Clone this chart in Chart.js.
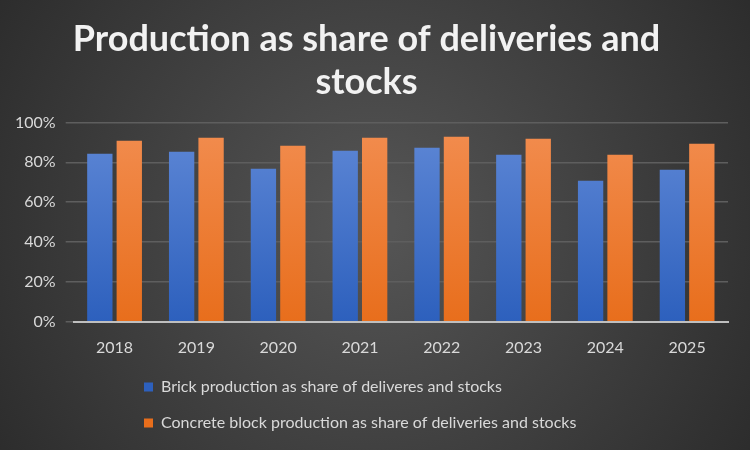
<!DOCTYPE html>
<html>
<head>
<meta charset="utf-8">
<script src="https://cdn.jsdelivr.net/npm/chart.js@4"></script>
<style>
  html, body { margin: 0; padding: 0; background: #3c3c3c; }
  #wrap { width: 750px; height: 450px; }
</style>
</head>
<body>
<div id="wrap"><canvas id="myChart"></canvas></div>
<script>
const years = ['2018', '2019', '2020', '2021', '2022', '2023', '2024', '2025'];
const brickShare = [84.3, 85.3, 76.7, 85.8, 87.3, 83.8, 70.7, 76.2];
const concreteShare = [90.8, 92.3, 88.3, 92.3, 92.8, 91.8, 83.8, 89.3];
const titleLines = ['Production as share of deliveries and', 'stocks'];
const brickLabel = 'Brick production as share of deliveres and stocks';
const concreteLabel = 'Concrete block production as share of deliveries and stocks';

function barGradient(top, bottom) {
  return (ctx) => {
    const area = ctx.chart.chartArea;
    if (!area) return bottom;
    const g = ctx.chart.ctx.createLinearGradient(0, area.top, 0, area.bottom);
    g.addColorStop(0, top);
    g.addColorStop(1, bottom);
    return g;
  };
}

const background = {
  id: 'background',
  beforeDraw(chart) {
    const { ctx, width, height } = chart;
    const g = ctx.createRadialGradient(width / 2, height / 2, 20, width / 2, height / 2, width * 0.62);
    g.addColorStop(0, '#545454');
    g.addColorStop(1, '#2a2a2a');
    ctx.save();
    ctx.fillStyle = g;
    ctx.fillRect(0, 0, width, height);
    ctx.restore();
  },
};

// push the two legend rows to a shared left edge
const legendLeft = {
  id: 'legendLeft',
  afterLayout(chart) {
    const lg = chart.legend;
    const w = lg.right - lg.left;
    lg.left = 124;
    lg.right = 124 + w;
  },
};

Chart.defaults.font.family = 'Lato, "Open Sans", sans-serif';
Chart.defaults.color = '#d9d9d9';

new Chart(document.getElementById('myChart'), {
  type: 'bar',
  plugins: [background, legendLeft],
  options: {
    responsive: true,
    maintainAspectRatio: false,
    animation: false,
    layout: { padding: { left: 5, right: 22, top: 10, bottom: 9 } },
    plugins: {
      title: {
        display: true,
        text: titleLines,
        color: '#f2f2f2',
        font: { size: 36, weight: 'bold' },
        lineHeight: 1.08,
        padding: { top: 8, bottom: 18 },
      },
      legend: {
        position: 'bottom',
        align: 'start',
        labels: {
          boxWidth: 9,
          boxHeight: 9,
          padding: 20,
          font: { size: 16 },
          color: '#d9d9d9',
        },
      },
      tooltip: { enabled: false },
    },
    scales: {
      x: {
        grid: { display: false },
        border: { color: '#bfbfbf', width: 2 },
        ticks: { font: { size: 16 }, padding: 8 },
        afterFit(scale) { scale.height -= 6; },
      },
      y: {
        min: 0,
        max: 100,
        ticks: {
          stepSize: 20,
          font: { size: 16 },
          padding: 10,
          callback: (v) => v + '%',
        },
        border: { display: false },
        grid: { color: '#5e5e5e', lineWidth: 1.5 },
      },
    },
  },
  data: {
    labels: years,
    datasets: [
      {
        label: brickLabel,
        data: brickShare,
        backgroundColor: barGradient('#5f88d6', '#2d60bd'),
        categoryPercentage: 0.72,
        barPercentage: 0.86,
      },
      {
        label: concreteLabel,
        data: concreteShare,
        backgroundColor: barGradient('#f28d50', '#e86e1c'),
        categoryPercentage: 0.72,
        barPercentage: 0.86,
      },
    ],
  },
});
</script>
</body>
</html>
